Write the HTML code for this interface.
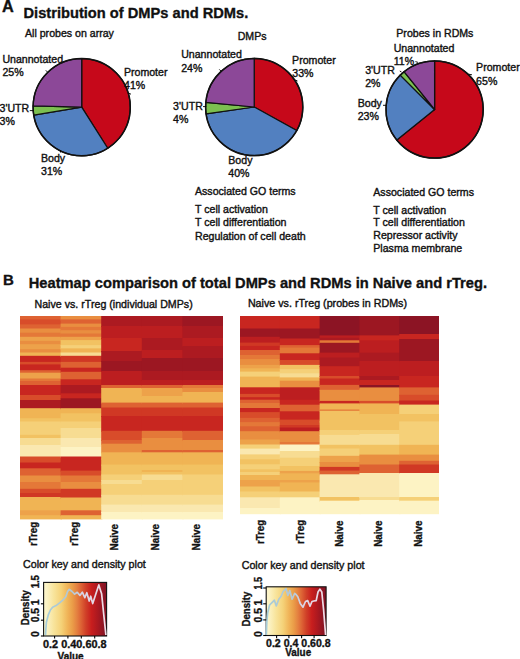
<!DOCTYPE html>
<html><head><meta charset="utf-8"><style>
html,body{margin:0;padding:0;background:#fff;}
svg{display:block;font-family:"Liberation Sans",sans-serif;}
</style></head><body>
<svg width="520" height="659" viewBox="0 0 520 659">
<rect width="520" height="659" fill="#fff"/>
<text x="2.10" y="12.20" font-size="16.3" font-weight="bold" stroke="#111" stroke-width="0.34" fill="#111">A</text>
<text x="23.50" y="18.20" font-size="14.7" font-weight="bold" stroke="#111" stroke-width="0.34" textLength="224.80" lengthAdjust="spacingAndGlyphs" fill="#111">Distribution of DMPs and RDMs.</text>
<text x="25.00" y="36.50" font-size="10.6" stroke="#111" stroke-width="0.38" fill="#111">All probes on array</text>
<text x="237.70" y="39.80" font-size="10.6" stroke="#111" stroke-width="0.38" fill="#111">DMPs</text>
<text x="396.30" y="37.30" font-size="10.6" stroke="#111" stroke-width="0.38" fill="#111">Probes in RDMs</text>
<path d="M81.7,107.2 L81.70,58.60 A48.6,48.6 0 0 1 107.74,148.23 Z" fill="#C6081A" stroke="#111" stroke-width="1.25" stroke-linejoin="round"/>
<path d="M81.7,107.2 L107.74,148.23 A48.6,48.6 0 0 1 33.77,115.22 Z" fill="#5280C0" stroke="#111" stroke-width="1.25" stroke-linejoin="round"/>
<path d="M81.7,107.2 L33.77,115.22 A48.6,48.6 0 0 1 33.12,105.93 Z" fill="#7CC050" stroke="#111" stroke-width="1.25" stroke-linejoin="round"/>
<path d="M81.7,107.2 L33.12,105.93 A48.6,48.6 0 0 1 81.70,58.60 Z" fill="#8C4898" stroke="#111" stroke-width="1.25" stroke-linejoin="round"/>
<circle cx="81.7" cy="107.2" r="48.6" fill="none" stroke="#111" stroke-width="1.5"/>
<text x="2.40" y="62.60" font-size="10.6" stroke="#111" stroke-width="0.38" fill="#111">Unannotated</text>
<text x="2.40" y="75.60" font-size="10.6" stroke="#111" stroke-width="0.38" fill="#111">25%</text>
<text x="-0.50" y="112.20" font-size="10.6" stroke="#111" stroke-width="0.38" fill="#111">3'UTR</text>
<text x="-0.50" y="125.20" font-size="10.6" stroke="#111" stroke-width="0.38" fill="#111">3%</text>
<text x="41.00" y="161.80" font-size="10.6" stroke="#111" stroke-width="0.38" fill="#111">Body</text>
<text x="41.00" y="174.80" font-size="10.6" stroke="#111" stroke-width="0.38" fill="#111">31%</text>
<text x="123.90" y="75.60" font-size="10.6" stroke="#111" stroke-width="0.38" fill="#111">Promoter</text>
<text x="124.00" y="88.60" font-size="10.6" stroke="#111" stroke-width="0.38" fill="#111">41%</text>
<line x1="45.8" y1="70.3" x2="47.6" y2="72.2" stroke="#000" stroke-width="0.9"/>
<line x1="29.8" y1="110.6" x2="33.5" y2="110.6" stroke="#000" stroke-width="0.9"/>
<line x1="60.5" y1="150.3" x2="60.5" y2="152.5" stroke="#000" stroke-width="0.9"/>
<line x1="128.6" y1="93.2" x2="131" y2="94.2" stroke="#000" stroke-width="0.9"/>
<path d="M254.2,107 L254.20,58.40 A48.6,48.6 0 0 1 296.71,130.56 Z" fill="#C6081A" stroke="#111" stroke-width="1.25" stroke-linejoin="round"/>
<path d="M254.2,107 L296.71,130.56 A48.6,48.6 0 0 1 206.07,113.76 Z" fill="#5280C0" stroke="#111" stroke-width="1.25" stroke-linejoin="round"/>
<path d="M254.2,107 L206.07,113.76 A48.6,48.6 0 0 1 205.82,102.34 Z" fill="#7CC050" stroke="#111" stroke-width="1.25" stroke-linejoin="round"/>
<path d="M254.2,107 L205.82,102.34 A48.6,48.6 0 0 1 254.20,58.40 Z" fill="#8C4898" stroke="#111" stroke-width="1.25" stroke-linejoin="round"/>
<circle cx="254.2" cy="107" r="48.6" fill="none" stroke="#111" stroke-width="1.5"/>
<text x="181.20" y="58.20" font-size="10.6" stroke="#111" stroke-width="0.38" fill="#111">Unannotated</text>
<text x="181.20" y="71.60" font-size="10.6" stroke="#111" stroke-width="0.38" fill="#111">24%</text>
<text x="173.10" y="109.60" font-size="10.6" stroke="#111" stroke-width="0.38" fill="#111">3'UTR</text>
<text x="173.10" y="122.70" font-size="10.6" stroke="#111" stroke-width="0.38" fill="#111">4%</text>
<text x="228.30" y="163.70" font-size="10.6" stroke="#111" stroke-width="0.38" fill="#111">Body</text>
<text x="228.30" y="176.70" font-size="10.6" stroke="#111" stroke-width="0.38" fill="#111">40%</text>
<text x="292.10" y="63.80" font-size="10.6" stroke="#111" stroke-width="0.38" fill="#111">Promoter</text>
<text x="292.30" y="76.90" font-size="10.6" stroke="#111" stroke-width="0.38" fill="#111">33%</text>
<line x1="219.3" y1="69.4" x2="221" y2="71.1" stroke="#000" stroke-width="0.9"/>
<line x1="203" y1="106.6" x2="206.3" y2="106.6" stroke="#000" stroke-width="0.9"/>
<line x1="295.5" y1="80" x2="297.5" y2="81" stroke="#000" stroke-width="0.9"/>
<path d="M434.6,109.5 L434.60,60.90 A48.6,48.6 0 1 1 396.83,140.08 Z" fill="#C6081A" stroke="#111" stroke-width="1.25" stroke-linejoin="round"/>
<path d="M434.6,109.5 L396.83,140.08 A48.6,48.6 0 0 1 400.23,75.13 Z" fill="#5280C0" stroke="#111" stroke-width="1.25" stroke-linejoin="round"/>
<path d="M434.6,109.5 L400.23,75.13 A48.6,48.6 0 0 1 404.02,71.73 Z" fill="#7CC050" stroke="#111" stroke-width="1.25" stroke-linejoin="round"/>
<path d="M434.6,109.5 L404.02,71.73 A48.6,48.6 0 0 1 434.60,60.90 Z" fill="#8C4898" stroke="#111" stroke-width="1.25" stroke-linejoin="round"/>
<circle cx="434.6" cy="109.5" r="48.6" fill="none" stroke="#111" stroke-width="1.5"/>
<text x="393.70" y="52.00" font-size="10.6" stroke="#111" stroke-width="0.38" fill="#111">Unannotated</text>
<text x="393.70" y="64.60" font-size="10.6" stroke="#111" stroke-width="0.38" fill="#111">11%</text>
<text x="365.20" y="74.20" font-size="10.6" stroke="#111" stroke-width="0.38" fill="#111">3'UTR</text>
<text x="365.20" y="87.10" font-size="10.6" stroke="#111" stroke-width="0.38" fill="#111">2%</text>
<text x="357.70" y="106.60" font-size="10.6" stroke="#111" stroke-width="0.38" fill="#111">Body</text>
<text x="357.70" y="120.10" font-size="10.6" stroke="#111" stroke-width="0.38" fill="#111">23%</text>
<text x="476.10" y="71.30" font-size="10.6" stroke="#111" stroke-width="0.38" fill="#111">Promoter</text>
<text x="476.10" y="84.60" font-size="10.6" stroke="#111" stroke-width="0.38" fill="#111">65%</text>
<line x1="415.4" y1="61.6" x2="418" y2="62.4" stroke="#000" stroke-width="0.9"/>
<line x1="399.8" y1="71" x2="401.5" y2="72" stroke="#000" stroke-width="0.9"/>
<line x1="383" y1="105.3" x2="386.3" y2="105.3" stroke="#000" stroke-width="0.9"/>
<line x1="468.7" y1="74.2" x2="472" y2="74.8" stroke="#000" stroke-width="0.9"/>
<text x="195.00" y="195.00" font-size="10.6" stroke="#111" stroke-width="0.38" fill="#111">Associated GO terms</text>
<text x="195.00" y="213.30" font-size="10.6" stroke="#111" stroke-width="0.38" fill="#111">T cell activation</text>
<text x="195.00" y="226.30" font-size="10.6" stroke="#111" stroke-width="0.38" fill="#111">T cell differentiation</text>
<text x="195.00" y="239.50" font-size="10.6" stroke="#111" stroke-width="0.38" fill="#111">Regulation of cell death</text>
<text x="373.30" y="195.50" font-size="10.6" stroke="#111" stroke-width="0.38" fill="#111">Associated GO terms</text>
<text x="373.30" y="213.70" font-size="10.6" stroke="#111" stroke-width="0.38" fill="#111">T cell activation</text>
<text x="373.30" y="226.30" font-size="10.6" stroke="#111" stroke-width="0.38" fill="#111">T cell differentiation</text>
<text x="373.30" y="238.80" font-size="10.6" stroke="#111" stroke-width="0.38" fill="#111">Repressor activity</text>
<text x="373.30" y="251.80" font-size="10.6" stroke="#111" stroke-width="0.38" fill="#111">Plasma membrane</text>
<text x="3.00" y="284.50" font-size="15" font-weight="bold" stroke="#111" stroke-width="0.34" fill="#111">B</text>
<text x="28.75" y="287.60" font-size="14.7" font-weight="bold" stroke="#111" stroke-width="0.34" textLength="458.25" lengthAdjust="spacingAndGlyphs" fill="#111">Heatmap comparison of total DMPs and RDMs in Naive and rTreg.</text>
<text x="34.50" y="307.50" font-size="10.6" stroke="#111" stroke-width="0.38" textLength="158.20" lengthAdjust="spacingAndGlyphs" fill="#111">Naive vs. rTreg (individual DMPs)</text>
<text x="247.90" y="307.20" font-size="10.6" stroke="#111" stroke-width="0.38" textLength="159.10" lengthAdjust="spacingAndGlyphs" fill="#111">Naive vs. rTreg (probes in RDMs)</text>
<rect x="20.00" y="316.00" width="41.80" height="4.40" fill="#DE6232"/>
<rect x="20.00" y="319.40" width="41.80" height="6.00" fill="#D84C2A"/>
<rect x="20.00" y="324.40" width="41.80" height="5.10" fill="#DE6232"/>
<rect x="20.00" y="328.50" width="41.80" height="5.20" fill="#E98E40"/>
<rect x="20.00" y="332.70" width="41.80" height="5.10" fill="#E47838"/>
<rect x="20.00" y="336.80" width="41.80" height="5.10" fill="#EDA24A"/>
<rect x="20.00" y="340.90" width="41.80" height="4.30" fill="#E98E40"/>
<rect x="20.00" y="344.20" width="41.80" height="6.00" fill="#EDA24A"/>
<rect x="20.00" y="349.20" width="41.80" height="4.30" fill="#E98E40"/>
<rect x="20.00" y="352.50" width="41.80" height="4.30" fill="#F0B454"/>
<rect x="20.00" y="355.80" width="41.80" height="7.10" fill="#C82620"/>
<rect x="20.00" y="361.90" width="41.80" height="3.50" fill="#D84C2A"/>
<rect x="20.00" y="364.40" width="41.80" height="6.80" fill="#C82620"/>
<rect x="20.00" y="370.20" width="41.80" height="3.50" fill="#DE6232"/>
<rect x="20.00" y="372.70" width="41.80" height="6.80" fill="#EDA24A"/>
<rect x="20.00" y="378.50" width="41.80" height="3.50" fill="#E47838"/>
<rect x="20.00" y="381.00" width="41.80" height="5.00" fill="#DE6232"/>
<rect x="20.00" y="385.00" width="41.80" height="11.00" fill="#C82620"/>
<rect x="20.00" y="395.00" width="41.80" height="6.00" fill="#D84C2A"/>
<rect x="20.00" y="400.00" width="41.80" height="9.20" fill="#AC1A21"/>
<rect x="20.00" y="408.20" width="41.80" height="11.00" fill="#F0B454"/>
<rect x="20.00" y="418.20" width="41.80" height="4.30" fill="#F2C262"/>
<rect x="20.00" y="421.50" width="41.80" height="14.30" fill="#F5D078"/>
<rect x="20.00" y="434.80" width="41.80" height="4.20" fill="#F2C262"/>
<rect x="20.00" y="438.00" width="41.80" height="8.00" fill="#F7DC92"/>
<rect x="20.00" y="445.00" width="41.80" height="12.50" fill="#FAE8B0"/>
<rect x="20.00" y="456.50" width="41.80" height="7.00" fill="#D84C2A"/>
<rect x="20.00" y="462.50" width="41.80" height="6.80" fill="#C82620"/>
<rect x="20.00" y="468.30" width="41.80" height="3.30" fill="#DE6232"/>
<rect x="20.00" y="470.60" width="41.80" height="5.90" fill="#DE6232"/>
<rect x="20.00" y="475.50" width="41.80" height="7.50" fill="#E98E40"/>
<rect x="20.00" y="482.00" width="41.80" height="7.80" fill="#E47838"/>
<rect x="20.00" y="488.80" width="41.80" height="5.20" fill="#D84C2A"/>
<rect x="20.00" y="493.00" width="41.80" height="5.00" fill="#D03824"/>
<rect x="20.00" y="497.00" width="41.80" height="14.30" fill="#F0B454"/>
<rect x="20.00" y="510.30" width="41.80" height="5.90" fill="#EDA24A"/>
<rect x="20.00" y="515.20" width="41.80" height="4.20" fill="#F0B454"/>
<rect x="60.60" y="316.00" width="41.80" height="4.40" fill="#E98E40"/>
<rect x="60.60" y="319.40" width="41.80" height="5.20" fill="#DE6232"/>
<rect x="60.60" y="323.60" width="41.80" height="4.30" fill="#E98E40"/>
<rect x="60.60" y="326.90" width="41.80" height="4.30" fill="#E47838"/>
<rect x="60.60" y="330.20" width="41.80" height="4.30" fill="#E98E40"/>
<rect x="60.60" y="333.50" width="41.80" height="4.30" fill="#E47838"/>
<rect x="60.60" y="336.80" width="41.80" height="4.30" fill="#EDA24A"/>
<rect x="60.60" y="340.10" width="41.80" height="6.00" fill="#F2C262"/>
<rect x="60.60" y="345.10" width="41.80" height="4.30" fill="#F5D078"/>
<rect x="60.60" y="348.40" width="41.80" height="5.10" fill="#F0B454"/>
<rect x="60.60" y="352.50" width="41.80" height="4.30" fill="#F7DC92"/>
<rect x="60.60" y="355.80" width="41.80" height="7.10" fill="#D03824"/>
<rect x="60.60" y="361.90" width="41.80" height="6.80" fill="#DE6232"/>
<rect x="60.60" y="367.70" width="41.80" height="5.10" fill="#C82620"/>
<rect x="60.60" y="371.80" width="41.80" height="8.50" fill="#DE6232"/>
<rect x="60.60" y="379.30" width="41.80" height="6.70" fill="#C82620"/>
<rect x="60.60" y="385.00" width="41.80" height="9.30" fill="#AC1A21"/>
<rect x="60.60" y="393.30" width="41.80" height="6.00" fill="#C82620"/>
<rect x="60.60" y="398.30" width="41.80" height="10.90" fill="#9C1722"/>
<rect x="60.60" y="408.20" width="41.80" height="6.10" fill="#F0B454"/>
<rect x="60.60" y="413.30" width="41.80" height="9.20" fill="#F2C262"/>
<rect x="60.60" y="421.50" width="41.80" height="7.50" fill="#F5D078"/>
<rect x="60.60" y="428.00" width="41.80" height="11.00" fill="#F7DC92"/>
<rect x="60.60" y="438.00" width="41.80" height="10.00" fill="#FAE8B0"/>
<rect x="60.60" y="447.00" width="41.80" height="10.50" fill="#FDF3C4"/>
<rect x="60.60" y="456.50" width="41.80" height="6.50" fill="#C82620"/>
<rect x="60.60" y="462.00" width="41.80" height="9.60" fill="#C82620"/>
<rect x="60.60" y="470.60" width="41.80" height="5.90" fill="#D84C2A"/>
<rect x="60.60" y="475.50" width="41.80" height="7.50" fill="#E47838"/>
<rect x="60.60" y="482.00" width="41.80" height="7.80" fill="#E98E40"/>
<rect x="60.60" y="488.80" width="41.80" height="9.70" fill="#D03824"/>
<rect x="60.60" y="497.50" width="41.80" height="13.80" fill="#F0B454"/>
<rect x="60.60" y="510.30" width="41.80" height="5.90" fill="#DE6232"/>
<rect x="60.60" y="515.20" width="41.80" height="4.20" fill="#F0B454"/>
<rect x="101.20" y="316.00" width="41.80" height="11.00" fill="#AC1A21"/>
<rect x="101.20" y="326.00" width="41.80" height="13.00" fill="#BC1E20"/>
<rect x="101.20" y="338.00" width="41.80" height="14.00" fill="#C82620"/>
<rect x="101.20" y="351.00" width="41.80" height="11.00" fill="#AC1A21"/>
<rect x="101.20" y="361.00" width="41.80" height="11.00" fill="#9C1722"/>
<rect x="101.20" y="371.00" width="41.80" height="15.00" fill="#BC1E20"/>
<rect x="101.20" y="385.00" width="41.80" height="4.00" fill="#DE6232"/>
<rect x="101.20" y="388.00" width="41.80" height="15.60" fill="#F0B454"/>
<rect x="101.20" y="402.60" width="41.80" height="5.90" fill="#DE6232"/>
<rect x="101.20" y="407.50" width="41.80" height="9.50" fill="#D03824"/>
<rect x="101.20" y="416.00" width="41.80" height="15.80" fill="#C82620"/>
<rect x="101.20" y="430.80" width="41.80" height="10.20" fill="#D84C2A"/>
<rect x="101.20" y="440.00" width="41.80" height="4.70" fill="#DE6232"/>
<rect x="101.20" y="443.70" width="41.80" height="9.60" fill="#E98E40"/>
<rect x="101.20" y="452.30" width="41.80" height="7.20" fill="#F0B454"/>
<rect x="101.20" y="458.50" width="41.80" height="7.10" fill="#F0B454"/>
<rect x="101.20" y="464.60" width="41.80" height="10.90" fill="#F2C262"/>
<rect x="101.20" y="474.50" width="41.80" height="6.50" fill="#F5D078"/>
<rect x="101.20" y="480.00" width="41.80" height="5.00" fill="#F7DC92"/>
<rect x="101.20" y="484.00" width="41.80" height="11.80" fill="#F5D078"/>
<rect x="101.20" y="494.80" width="41.80" height="10.80" fill="#F7DC92"/>
<rect x="101.20" y="504.60" width="41.80" height="8.40" fill="#FAE8B0"/>
<rect x="101.20" y="512.00" width="41.80" height="7.40" fill="#FDF3C4"/>
<rect x="141.80" y="316.00" width="41.80" height="11.00" fill="#AC1A21"/>
<rect x="141.80" y="326.00" width="41.80" height="13.00" fill="#BC1E20"/>
<rect x="141.80" y="338.00" width="41.80" height="13.00" fill="#AC1A21"/>
<rect x="141.80" y="350.00" width="41.80" height="9.00" fill="#BC1E20"/>
<rect x="141.80" y="358.00" width="41.80" height="14.00" fill="#9C1722"/>
<rect x="141.80" y="371.00" width="41.80" height="10.00" fill="#AC1A21"/>
<rect x="141.80" y="380.00" width="41.80" height="6.00" fill="#BC1E20"/>
<rect x="141.80" y="385.00" width="41.80" height="4.00" fill="#DE6232"/>
<rect x="141.80" y="388.00" width="41.80" height="9.00" fill="#EDA24A"/>
<rect x="141.80" y="396.00" width="41.80" height="7.60" fill="#F0B454"/>
<rect x="141.80" y="402.60" width="41.80" height="5.90" fill="#DE6232"/>
<rect x="141.80" y="407.50" width="41.80" height="9.50" fill="#D03824"/>
<rect x="141.80" y="416.00" width="41.80" height="15.80" fill="#C82620"/>
<rect x="141.80" y="430.80" width="41.80" height="8.20" fill="#E47838"/>
<rect x="141.80" y="438.00" width="41.80" height="13.00" fill="#E98E40"/>
<rect x="141.80" y="450.00" width="41.80" height="3.30" fill="#DE6232"/>
<rect x="141.80" y="452.30" width="41.80" height="13.30" fill="#F0B454"/>
<rect x="141.80" y="464.60" width="41.80" height="6.40" fill="#F2C262"/>
<rect x="141.80" y="470.00" width="41.80" height="3.00" fill="#F0B454"/>
<rect x="141.80" y="472.00" width="41.80" height="3.50" fill="#F2C262"/>
<rect x="141.80" y="474.50" width="41.80" height="6.50" fill="#F7DC92"/>
<rect x="141.80" y="480.00" width="41.80" height="15.80" fill="#F5D078"/>
<rect x="141.80" y="494.80" width="41.80" height="10.80" fill="#F7DC92"/>
<rect x="141.80" y="504.60" width="41.80" height="8.40" fill="#FAE8B0"/>
<rect x="141.80" y="512.00" width="41.80" height="7.40" fill="#FDF3C4"/>
<rect x="182.40" y="316.00" width="40.60" height="11.00" fill="#9C1722"/>
<rect x="182.40" y="326.00" width="40.60" height="13.00" fill="#AC1A21"/>
<rect x="182.40" y="338.00" width="40.60" height="9.00" fill="#BC1E20"/>
<rect x="182.40" y="346.00" width="40.60" height="13.00" fill="#AC1A21"/>
<rect x="182.40" y="358.00" width="40.60" height="14.00" fill="#9C1722"/>
<rect x="182.40" y="371.00" width="40.60" height="10.00" fill="#AC1A21"/>
<rect x="182.40" y="380.00" width="40.60" height="6.00" fill="#BC1E20"/>
<rect x="182.40" y="385.00" width="40.60" height="4.00" fill="#E47838"/>
<rect x="182.40" y="388.00" width="40.60" height="5.00" fill="#E98E40"/>
<rect x="182.40" y="392.00" width="40.60" height="11.60" fill="#F0B454"/>
<rect x="182.40" y="402.60" width="40.60" height="5.90" fill="#DE6232"/>
<rect x="182.40" y="407.50" width="40.60" height="9.50" fill="#D03824"/>
<rect x="182.40" y="416.00" width="40.60" height="15.80" fill="#C82620"/>
<rect x="182.40" y="430.80" width="40.60" height="10.20" fill="#DE6232"/>
<rect x="182.40" y="440.00" width="40.60" height="11.00" fill="#E98E40"/>
<rect x="182.40" y="450.00" width="40.60" height="3.30" fill="#DE6232"/>
<rect x="182.40" y="452.30" width="40.60" height="13.30" fill="#F0B454"/>
<rect x="182.40" y="464.60" width="40.60" height="10.90" fill="#F2C262"/>
<rect x="182.40" y="474.50" width="40.60" height="21.30" fill="#F5D078"/>
<rect x="182.40" y="494.80" width="40.60" height="10.80" fill="#F7DC92"/>
<rect x="182.40" y="504.60" width="40.60" height="8.40" fill="#FAE8B0"/>
<rect x="182.40" y="512.00" width="40.60" height="7.40" fill="#FDF3C4"/>
<rect x="240.00" y="316.00" width="41.00" height="13.50" fill="#C82620"/>
<rect x="240.00" y="328.50" width="41.00" height="9.30" fill="#9C1722"/>
<rect x="240.00" y="336.80" width="41.00" height="6.80" fill="#BC1E20"/>
<rect x="240.00" y="342.60" width="41.00" height="4.30" fill="#D03824"/>
<rect x="240.00" y="345.90" width="41.00" height="5.10" fill="#C82620"/>
<rect x="240.00" y="350.00" width="41.00" height="6.00" fill="#DE6232"/>
<rect x="240.00" y="355.00" width="41.00" height="5.10" fill="#E47838"/>
<rect x="240.00" y="359.10" width="41.00" height="6.80" fill="#E98E40"/>
<rect x="240.00" y="364.90" width="41.00" height="4.40" fill="#EDA24A"/>
<rect x="240.00" y="368.30" width="41.00" height="4.30" fill="#F0B454"/>
<rect x="240.00" y="371.60" width="41.00" height="6.00" fill="#F5D078"/>
<rect x="240.00" y="376.60" width="41.00" height="11.70" fill="#F0B454"/>
<rect x="240.00" y="387.30" width="41.00" height="7.60" fill="#C82620"/>
<rect x="240.00" y="393.90" width="41.00" height="4.30" fill="#D84C2A"/>
<rect x="240.00" y="397.20" width="41.00" height="3.50" fill="#C82620"/>
<rect x="240.00" y="399.70" width="41.00" height="4.30" fill="#DE6232"/>
<rect x="240.00" y="403.00" width="41.00" height="6.00" fill="#E47838"/>
<rect x="240.00" y="408.00" width="41.00" height="5.10" fill="#C82620"/>
<rect x="240.00" y="412.10" width="41.00" height="6.80" fill="#D84C2A"/>
<rect x="240.00" y="417.90" width="41.00" height="5.20" fill="#DE6232"/>
<rect x="240.00" y="422.10" width="41.00" height="5.20" fill="#E47838"/>
<rect x="240.00" y="426.30" width="41.00" height="5.90" fill="#DE6232"/>
<rect x="240.00" y="431.20" width="41.00" height="9.30" fill="#E98E40"/>
<rect x="240.00" y="439.50" width="41.00" height="6.00" fill="#EDA24A"/>
<rect x="240.00" y="444.50" width="41.00" height="5.10" fill="#F5D078"/>
<rect x="240.00" y="448.60" width="41.00" height="6.80" fill="#FAE8B0"/>
<rect x="240.00" y="454.40" width="41.00" height="5.90" fill="#F5D078"/>
<rect x="240.00" y="459.30" width="41.00" height="6.00" fill="#F2C262"/>
<rect x="240.00" y="464.30" width="41.00" height="6.00" fill="#F5D078"/>
<rect x="240.00" y="469.30" width="41.00" height="3.70" fill="#F2C262"/>
<rect x="240.00" y="472.00" width="41.00" height="4.00" fill="#F5D078"/>
<rect x="240.00" y="475.00" width="41.00" height="6.00" fill="#F0B454"/>
<rect x="240.00" y="480.00" width="41.00" height="7.50" fill="#EDA24A"/>
<rect x="240.00" y="486.50" width="41.00" height="6.00" fill="#F2C262"/>
<rect x="240.00" y="491.50" width="41.00" height="6.80" fill="#F5D078"/>
<rect x="240.00" y="497.30" width="41.00" height="11.70" fill="#FAE8B0"/>
<rect x="240.00" y="508.00" width="41.00" height="6.20" fill="#FDF3C4"/>
<rect x="279.80" y="316.00" width="41.00" height="13.50" fill="#C82620"/>
<rect x="279.80" y="328.50" width="41.00" height="11.00" fill="#9C1722"/>
<rect x="279.80" y="338.50" width="41.00" height="7.60" fill="#C82620"/>
<rect x="279.80" y="345.10" width="41.00" height="3.50" fill="#DE6232"/>
<rect x="279.80" y="347.60" width="41.00" height="6.70" fill="#E47838"/>
<rect x="279.80" y="353.30" width="41.00" height="7.70" fill="#C82620"/>
<rect x="279.80" y="360.00" width="41.00" height="5.90" fill="#D84C2A"/>
<rect x="279.80" y="364.90" width="41.00" height="5.20" fill="#F2C262"/>
<rect x="279.80" y="369.10" width="41.00" height="5.20" fill="#F5D078"/>
<rect x="279.80" y="373.30" width="41.00" height="5.10" fill="#F7DC92"/>
<rect x="279.80" y="377.40" width="41.00" height="4.30" fill="#F0B454"/>
<rect x="279.80" y="380.70" width="41.00" height="7.60" fill="#E98E40"/>
<rect x="279.80" y="387.30" width="41.00" height="13.40" fill="#BC1E20"/>
<rect x="279.80" y="399.70" width="41.00" height="6.00" fill="#C82620"/>
<rect x="279.80" y="404.70" width="41.00" height="7.60" fill="#DE6232"/>
<rect x="279.80" y="411.30" width="41.00" height="9.30" fill="#C82620"/>
<rect x="279.80" y="419.60" width="41.00" height="6.40" fill="#D84C2A"/>
<rect x="279.80" y="425.00" width="41.00" height="3.50" fill="#D03824"/>
<rect x="279.80" y="427.50" width="41.00" height="4.70" fill="#BC1E20"/>
<rect x="279.80" y="431.20" width="41.00" height="11.80" fill="#E98E40"/>
<rect x="279.80" y="442.00" width="41.00" height="3.50" fill="#E47838"/>
<rect x="279.80" y="444.50" width="41.00" height="7.50" fill="#FDF3C4"/>
<rect x="279.80" y="451.00" width="41.00" height="7.70" fill="#F7DC92"/>
<rect x="279.80" y="457.70" width="41.00" height="9.30" fill="#F5D078"/>
<rect x="279.80" y="466.00" width="41.00" height="5.90" fill="#F2C262"/>
<rect x="279.80" y="470.90" width="41.00" height="3.40" fill="#EDA24A"/>
<rect x="279.80" y="473.30" width="41.00" height="7.70" fill="#F0B454"/>
<rect x="279.80" y="480.00" width="41.00" height="3.40" fill="#EDA24A"/>
<rect x="279.80" y="482.40" width="41.00" height="10.10" fill="#F0B454"/>
<rect x="279.80" y="491.50" width="41.00" height="6.80" fill="#F5D078"/>
<rect x="279.80" y="497.30" width="41.00" height="16.90" fill="#FDF3C4"/>
<rect x="319.60" y="316.00" width="41.00" height="20.40" fill="#8C1424"/>
<rect x="319.60" y="335.40" width="41.00" height="3.40" fill="#BC1E20"/>
<rect x="319.60" y="337.80" width="41.00" height="3.50" fill="#AC1A21"/>
<rect x="319.60" y="340.30" width="41.00" height="3.50" fill="#E47838"/>
<rect x="319.60" y="342.80" width="41.00" height="10.80" fill="#9C1722"/>
<rect x="319.60" y="352.60" width="41.00" height="5.90" fill="#BC1E20"/>
<rect x="319.60" y="357.50" width="41.00" height="9.70" fill="#AC1A21"/>
<rect x="319.60" y="366.20" width="41.00" height="10.80" fill="#C82620"/>
<rect x="319.60" y="376.00" width="41.00" height="3.50" fill="#D84C2A"/>
<rect x="319.60" y="378.50" width="41.00" height="7.40" fill="#C82620"/>
<rect x="319.60" y="384.90" width="41.00" height="5.90" fill="#DE6232"/>
<rect x="319.60" y="389.80" width="41.00" height="12.10" fill="#E98E40"/>
<rect x="319.60" y="400.90" width="41.00" height="3.50" fill="#C82620"/>
<rect x="319.60" y="403.40" width="41.00" height="7.10" fill="#F0B454"/>
<rect x="319.60" y="409.50" width="41.00" height="2.30" fill="#E47838"/>
<rect x="319.60" y="410.80" width="41.00" height="11.60" fill="#F2C262"/>
<rect x="319.60" y="421.40" width="41.00" height="9.60" fill="#F2C262"/>
<rect x="319.60" y="430.00" width="41.00" height="5.90" fill="#F5D078"/>
<rect x="319.60" y="434.90" width="41.00" height="10.90" fill="#F7DC92"/>
<rect x="319.60" y="444.80" width="41.00" height="4.70" fill="#F2C262"/>
<rect x="319.60" y="448.50" width="41.00" height="8.30" fill="#F5D078"/>
<rect x="319.60" y="455.80" width="41.00" height="7.20" fill="#EDA24A"/>
<rect x="319.60" y="462.00" width="41.00" height="5.90" fill="#E98E40"/>
<rect x="319.60" y="466.90" width="41.00" height="4.70" fill="#D03824"/>
<rect x="319.60" y="470.60" width="41.00" height="4.70" fill="#DE6232"/>
<rect x="319.60" y="474.30" width="41.00" height="23.70" fill="#FAE8B0"/>
<rect x="319.60" y="497.00" width="41.00" height="4.70" fill="#F2C262"/>
<rect x="319.60" y="500.70" width="41.00" height="13.50" fill="#FDF3C4"/>
<rect x="359.40" y="316.00" width="41.00" height="20.40" fill="#9C1722"/>
<rect x="359.40" y="335.40" width="41.00" height="5.90" fill="#C82620"/>
<rect x="359.40" y="340.30" width="41.00" height="13.30" fill="#BC1E20"/>
<rect x="359.40" y="352.60" width="41.00" height="9.40" fill="#AC1A21"/>
<rect x="359.40" y="361.00" width="41.00" height="16.00" fill="#BC1E20"/>
<rect x="359.40" y="376.00" width="41.00" height="5.00" fill="#AC1A21"/>
<rect x="359.40" y="380.00" width="41.00" height="6.00" fill="#C82620"/>
<rect x="359.40" y="385.00" width="41.00" height="3.40" fill="#8C1424"/>
<rect x="359.40" y="387.40" width="41.00" height="14.50" fill="#E98E40"/>
<rect x="359.40" y="400.90" width="41.00" height="3.50" fill="#D84C2A"/>
<rect x="359.40" y="403.40" width="41.00" height="11.60" fill="#F0B454"/>
<rect x="359.40" y="414.00" width="41.00" height="17.00" fill="#F2C262"/>
<rect x="359.40" y="430.00" width="41.00" height="5.00" fill="#F5D078"/>
<rect x="359.40" y="434.00" width="41.00" height="11.80" fill="#F7DC92"/>
<rect x="359.40" y="444.80" width="41.00" height="10.80" fill="#F2C262"/>
<rect x="359.40" y="454.60" width="41.00" height="10.90" fill="#E98E40"/>
<rect x="359.40" y="464.50" width="41.00" height="9.50" fill="#DE6232"/>
<rect x="359.40" y="473.00" width="41.00" height="25.00" fill="#FAE8B0"/>
<rect x="359.40" y="497.00" width="41.00" height="4.00" fill="#F7DC92"/>
<rect x="359.40" y="500.00" width="41.00" height="14.20" fill="#FDF3C4"/>
<rect x="399.20" y="316.00" width="39.80" height="19.00" fill="#8C1424"/>
<rect x="399.20" y="334.00" width="39.80" height="6.00" fill="#C82620"/>
<rect x="399.20" y="339.00" width="39.80" height="23.00" fill="#9C1722"/>
<rect x="399.20" y="361.00" width="39.80" height="16.00" fill="#BC1E20"/>
<rect x="399.20" y="376.00" width="39.80" height="12.40" fill="#C82620"/>
<rect x="399.20" y="387.40" width="39.80" height="8.40" fill="#DE6232"/>
<rect x="399.20" y="394.80" width="39.80" height="6.70" fill="#D84C2A"/>
<rect x="399.20" y="400.50" width="39.80" height="5.10" fill="#C82620"/>
<rect x="399.20" y="404.60" width="39.80" height="10.40" fill="#F5D078"/>
<rect x="399.20" y="414.00" width="39.80" height="8.40" fill="#F2C262"/>
<rect x="399.20" y="421.40" width="39.80" height="24.40" fill="#F5D078"/>
<rect x="399.20" y="444.80" width="39.80" height="10.80" fill="#F0B454"/>
<rect x="399.20" y="454.60" width="39.80" height="7.20" fill="#E98E40"/>
<rect x="399.20" y="460.80" width="39.80" height="4.70" fill="#DE6232"/>
<rect x="399.20" y="464.50" width="39.80" height="9.50" fill="#D03824"/>
<rect x="399.20" y="473.00" width="39.80" height="25.00" fill="#FDF3C4"/>
<rect x="399.20" y="497.00" width="39.80" height="4.70" fill="#F5D078"/>
<rect x="399.20" y="500.70" width="39.80" height="13.50" fill="#FDF3C4"/>
<text x="0" y="0" transform="translate(37.10,546.00) rotate(-90)" font-size="10.2" font-weight="bold" stroke="#111" stroke-width="0.34" textLength="24.00" lengthAdjust="spacingAndGlyphs" fill="#111">rTreg</text>
<text x="0" y="0" transform="translate(77.70,546.00) rotate(-90)" font-size="10.2" font-weight="bold" stroke="#111" stroke-width="0.34" textLength="24.00" lengthAdjust="spacingAndGlyphs" fill="#111">rTreg</text>
<text x="0" y="0" transform="translate(118.30,550.50) rotate(-90)" font-size="10.2" font-weight="bold" stroke="#111" stroke-width="0.34" textLength="26.50" lengthAdjust="spacingAndGlyphs" fill="#111">Naive</text>
<text x="0" y="0" transform="translate(158.90,550.50) rotate(-90)" font-size="10.2" font-weight="bold" stroke="#111" stroke-width="0.34" textLength="26.50" lengthAdjust="spacingAndGlyphs" fill="#111">Naive</text>
<text x="0" y="0" transform="translate(199.50,550.50) rotate(-90)" font-size="10.2" font-weight="bold" stroke="#111" stroke-width="0.34" textLength="26.50" lengthAdjust="spacingAndGlyphs" fill="#111">Naive</text>
<text x="0" y="0" transform="translate(264.20,544.00) rotate(-90)" font-size="10.2" font-weight="bold" stroke="#111" stroke-width="0.34" textLength="24.00" lengthAdjust="spacingAndGlyphs" fill="#111">rTreg</text>
<text x="0" y="0" transform="translate(304.00,544.00) rotate(-90)" font-size="10.2" font-weight="bold" stroke="#111" stroke-width="0.34" textLength="24.00" lengthAdjust="spacingAndGlyphs" fill="#111">rTreg</text>
<text x="0" y="0" transform="translate(342.50,546.80) rotate(-90)" font-size="10.2" font-weight="bold" stroke="#111" stroke-width="0.34" textLength="26.30" lengthAdjust="spacingAndGlyphs" fill="#111">Naive</text>
<text x="0" y="0" transform="translate(382.30,546.80) rotate(-90)" font-size="10.2" font-weight="bold" stroke="#111" stroke-width="0.34" textLength="26.30" lengthAdjust="spacingAndGlyphs" fill="#111">Naive</text>
<text x="0" y="0" transform="translate(422.10,546.80) rotate(-90)" font-size="10.2" font-weight="bold" stroke="#111" stroke-width="0.34" textLength="26.30" lengthAdjust="spacingAndGlyphs" fill="#111">Naive</text>
<defs><linearGradient id="g1" x1="0" x2="1" y1="0" y2="0"><stop offset="0.04" stop-color="#FCF4C8"/><stop offset="0.16" stop-color="#F8E49C"/><stop offset="0.28" stop-color="#F5D278"/><stop offset="0.38" stop-color="#F0B458"/><stop offset="0.46" stop-color="#EA9C48"/><stop offset="0.53" stop-color="#E48040"/><stop offset="0.60" stop-color="#DC6034"/><stop offset="0.67" stop-color="#D04028"/><stop offset="0.76" stop-color="#C81E1E"/><stop offset="0.87" stop-color="#A81820"/><stop offset="0.97" stop-color="#861424"/></linearGradient><linearGradient id="g1l" x1="0" x2="1" y1="0" y2="0"><stop offset="0" stop-color="#A6CCD8"/><stop offset="0.45" stop-color="#B4C8D6"/><stop offset="0.6" stop-color="#D8D4E4"/><stop offset="1" stop-color="#F0DCE6"/></linearGradient></defs>
<rect x="43.6" y="582.4" width="62.99999999999999" height="53.60000000000002" fill="url(#g1)" stroke="#111" stroke-width="1.1"/>
<path d="M45.5,635.0 L45.6,632.9 L46.4,622.3 L48.2,615.2 L50.4,610.0 L52.6,607.3 L56.1,605.6 L59.6,602.9 L63.1,599.8 L65.8,596.7 L67.6,591.5 L69.3,589.3 L72.0,591.5 L74.6,594.1 L77.2,592.3 L79.9,595.4 L82.3,592.2 L84.8,597.7 L86.8,592.7 L89.2,601.1 L90.7,596.2 L92.7,603.6 L95.5,595.0 L98.8,584.9 L101.6,593.7 L103.8,615.0 L105.9,635.0" fill="none" stroke="url(#g1l)" stroke-width="1.7" stroke-linejoin="round"/>
<text x="23.10" y="568.00" font-size="10.6" stroke="#111" stroke-width="0.38" textLength="122.70" lengthAdjust="spacingAndGlyphs" fill="#111">Color key and density plot</text>
<line x1="40.9" y1="603.8" x2="43.6" y2="603.8" stroke="#000" stroke-width="1.1"/>
<line x1="40.9" y1="620.2" x2="43.6" y2="620.2" stroke="#000" stroke-width="1.1"/>
<line x1="40.9" y1="636.0" x2="43.6" y2="636.0" stroke="#000" stroke-width="1.1"/>
<line x1="54.6" y1="636.0" x2="54.6" y2="638.6" stroke="#000" stroke-width="1.1"/>
<line x1="67.9" y1="636.0" x2="67.9" y2="638.6" stroke="#000" stroke-width="1.1"/>
<line x1="81.3" y1="636.0" x2="81.3" y2="638.6" stroke="#000" stroke-width="1.1"/>
<line x1="94.7" y1="636.0" x2="94.7" y2="638.6" stroke="#000" stroke-width="1.1"/>
<text x="0" y="0" transform="translate(39.40,637.00) rotate(-90)" font-size="10.6" font-weight="bold" stroke="#111" stroke-width="0.34" fill="#111">0</text>
<text x="0" y="0" transform="translate(39.40,622.30) rotate(-90)" font-size="10.6" font-weight="bold" stroke="#111" stroke-width="0.34" textLength="14.40" lengthAdjust="spacingAndGlyphs" fill="#111">0.5</text>
<text x="0" y="0" transform="translate(39.40,605.20) rotate(-90)" font-size="10.6" font-weight="bold" stroke="#111" stroke-width="0.34" fill="#111">1</text>
<text x="0" y="0" transform="translate(39.40,588.30) rotate(-90)" font-size="10.6" font-weight="bold" stroke="#111" stroke-width="0.34" textLength="13.20" lengthAdjust="spacingAndGlyphs" fill="#111">1.5</text>
<text x="0" y="0" transform="translate(28.70,625.20) rotate(-90)" font-size="10.2" font-weight="bold" stroke="#111" stroke-width="0.34" textLength="35.00" lengthAdjust="spacingAndGlyphs" fill="#111">Density</text>
<text x="43.00" y="648.30" font-size="10.7" font-weight="bold" stroke="#111" stroke-width="0.34" textLength="63.60" lengthAdjust="spacingAndGlyphs" fill="#111">0.2 0.40.60.8</text>
<text x="57.50" y="659.90" font-size="11" font-weight="bold" stroke="#111" stroke-width="0.34" textLength="26.20" lengthAdjust="spacingAndGlyphs" fill="#111">Value</text>
<defs><linearGradient id="g2" x1="0" x2="1" y1="0" y2="0"><stop offset="0.04" stop-color="#FCF4C8"/><stop offset="0.16" stop-color="#F8E49C"/><stop offset="0.28" stop-color="#F5D278"/><stop offset="0.38" stop-color="#F0B458"/><stop offset="0.46" stop-color="#EA9C48"/><stop offset="0.53" stop-color="#E48040"/><stop offset="0.60" stop-color="#DC6034"/><stop offset="0.67" stop-color="#D04028"/><stop offset="0.76" stop-color="#C81E1E"/><stop offset="0.87" stop-color="#A81820"/><stop offset="0.97" stop-color="#861424"/></linearGradient><linearGradient id="g2l" x1="0" x2="1" y1="0" y2="0"><stop offset="0" stop-color="#A6CCD8"/><stop offset="0.45" stop-color="#B4C8D6"/><stop offset="0.6" stop-color="#D8D4E4"/><stop offset="1" stop-color="#F0DCE6"/></linearGradient></defs>
<rect x="266.2" y="586.8" width="59.900000000000034" height="48.700000000000045" fill="url(#g2)" stroke="#111" stroke-width="1.1"/>
<path d="M266.3,635.0 L266.8,622.0 L267.7,612.7 L269.6,605.0 L272.5,602.1 L274.4,600.2 L276.3,606.0 L278.8,599.2 L281.2,596.3 L283.1,591.5 L286.0,588.7 L287.9,595.4 L289.8,590.6 L292.1,599.2 L294.6,593.5 L296.0,594.5 L297.8,596.8 L300.2,603.4 L303.0,607.2 L305.5,601.5 L307.7,600.6 L310.0,606.2 L312.0,601.5 L313.8,601.0 L316.2,600.6 L318.0,592.0 L319.9,589.1 L321.8,592.0 L323.6,610.0 L325.6,635.0" fill="none" stroke="url(#g2l)" stroke-width="1.7" stroke-linejoin="round"/>
<text x="241.70" y="569.00" font-size="10.6" stroke="#111" stroke-width="0.38" textLength="122.90" lengthAdjust="spacingAndGlyphs" fill="#111">Color key and density plot</text>
<line x1="263.2" y1="588.0" x2="266.2" y2="588.0" stroke="#000" stroke-width="1.1"/>
<line x1="263.2" y1="603.8" x2="266.2" y2="603.8" stroke="#000" stroke-width="1.1"/>
<line x1="263.2" y1="619.9" x2="266.2" y2="619.9" stroke="#000" stroke-width="1.1"/>
<line x1="263.2" y1="635.5" x2="266.2" y2="635.5" stroke="#000" stroke-width="1.1"/>
<line x1="276.6" y1="635.5" x2="276.6" y2="638.3" stroke="#000" stroke-width="1.1"/>
<line x1="288.9" y1="635.5" x2="288.9" y2="638.3" stroke="#000" stroke-width="1.1"/>
<line x1="301.6" y1="635.5" x2="301.6" y2="638.3" stroke="#000" stroke-width="1.1"/>
<line x1="314.1" y1="635.5" x2="314.1" y2="638.3" stroke="#000" stroke-width="1.1"/>
<text x="0" y="0" transform="translate(261.60,637.00) rotate(-90)" font-size="10.6" font-weight="bold" stroke="#111" stroke-width="0.34" fill="#111">0</text>
<text x="0" y="0" transform="translate(261.60,622.50) rotate(-90)" font-size="10.6" font-weight="bold" stroke="#111" stroke-width="0.34" textLength="14.40" lengthAdjust="spacingAndGlyphs" fill="#111">0.5</text>
<text x="0" y="0" transform="translate(261.60,605.50) rotate(-90)" font-size="10.6" font-weight="bold" stroke="#111" stroke-width="0.34" fill="#111">1</text>
<text x="0" y="0" transform="translate(261.60,589.50) rotate(-90)" font-size="10.6" font-weight="bold" stroke="#111" stroke-width="0.34" textLength="12.50" lengthAdjust="spacingAndGlyphs" fill="#111">1.5</text>
<text x="0" y="0" transform="translate(249.60,626.60) rotate(-90)" font-size="10.2" font-weight="bold" stroke="#111" stroke-width="0.34" textLength="35.00" lengthAdjust="spacingAndGlyphs" fill="#111">Density</text>
<text x="266.00" y="646.60" font-size="10.6" font-weight="bold" stroke="#111" stroke-width="0.34" textLength="64.70" lengthAdjust="spacingAndGlyphs" fill="#111">0.2 0.4 0.60.8</text>
<text x="285.30" y="656.40" font-size="11" font-weight="bold" stroke="#111" stroke-width="0.34" textLength="25.90" lengthAdjust="spacingAndGlyphs" fill="#111">Value</text>
</svg>
</body></html>
